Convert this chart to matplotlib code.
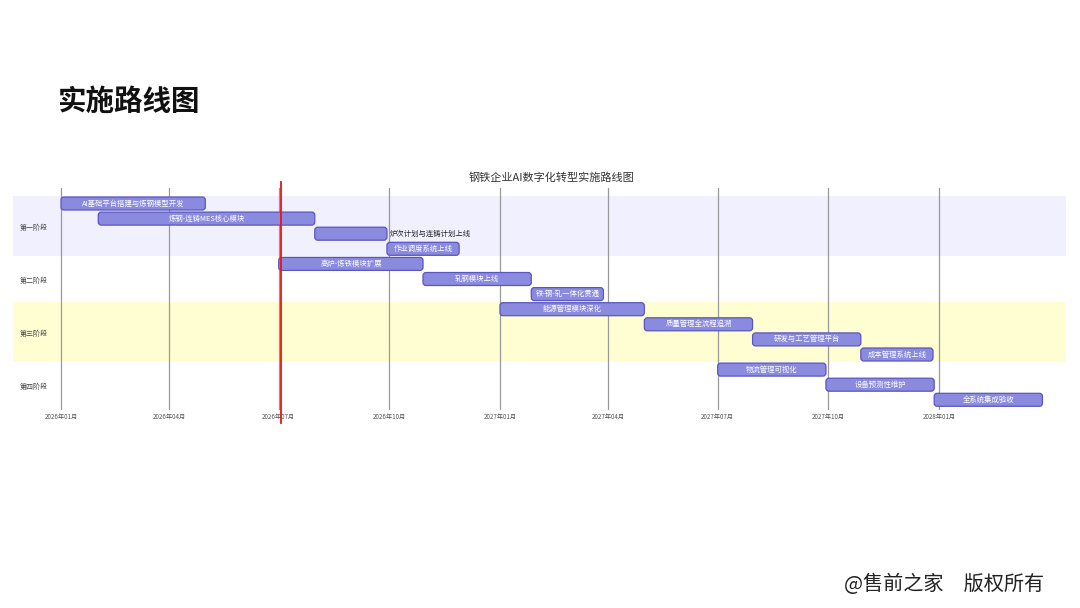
import matplotlib
matplotlib.use("Agg")
import matplotlib.pyplot as plt
import matplotlib.dates as mdates
from matplotlib.patches import FancyBboxPatch
from datetime import datetime

plt.rcParams['font.family'] = ['Noto Sans CJK SC', 'DejaVu Sans']

# 数据
phases = ['第一阶段', '第二阶段', '第三阶段', '第四阶段']
tasks = ['AI基础平台搭建与炼钢模型开发', '炼钢-连铸MES核心模块', '炉次计划与连铸计划上线', '作业调度系统上线',
         '高炉-炼铁模块扩展', '轧钢模块上线', '铁-钢-轧一体化贯通',
         '能源管理模块深化', '质量管理全流程追溯', '研发与工艺管理平台', '成本管理系统上线',
         '物流管理可视化', '设备预测性维护', '全系统集成验收']
task_phase = [0, 0, 0, 0, 1, 1, 1, 2, 2, 2, 2, 3, 3, 3]
starts = ['2026-01-01', '2026-02-01', '2026-07-31', '2026-09-29',
          '2026-07-01', '2026-10-29', '2027-01-27',
          '2027-01-01', '2027-05-01', '2027-07-30', '2027-10-28',
          '2027-07-01', '2027-09-29', '2027-12-28']
durations = [120, 180, 60, 60, 120, 90, 60, 120, 90, 90, 60, 90, 90, 90]
tick_dates = ['2026-01-01', '2026-04-01', '2026-07-01', '2026-10-01', '2027-01-01',
              '2027-04-01', '2027-07-01', '2027-10-01', '2028-01-01']
today = '2026-07-03'
phase_colors = ['#F0F0FE', '#FFFFFF', '#FEFED2', '#FFFFFF']

W, H = 1080, 608
fig = plt.figure(figsize=(10.8, 6.08), dpi=100)


def fx(x):
    return x / W


def fy(y):
    return 1 - y / H


# 坐标轴范围（像素换算）
ax = fig.add_axes([fx(13), fy(410), fx(1066) - fx(13), fy(188) - fy(410)])
d0 = mdates.date2num(datetime(2026, 1, 1))
ppd = (939 - 61) / 730.0
ax.set_xlim(d0 - (61 - 13) / ppd, d0 + (1066 - 61) / ppd)
row_px = 15.1
ax.set_ylim((410 - 203.5) / row_px, (188 - 203.5) / row_px)
for s in ax.spines.values():
    s.set_visible(False)
ax.set_yticks([])
ax.tick_params(axis='x', length=0, pad=2, labelsize=4.5, labelcolor='#555555')

# 阶段背景
for p in range(len(phases)):
    rows = [i for i, t in enumerate(task_phase) if t == p]
    ax.axhspan(min(rows) - 0.5, max(rows) + 0.5, color=phase_colors[p], zorder=0, lw=0)
    fig.text(fx(34), fy(205.5 + row_px * (min(rows) + max(rows)) / 2), phases[p],
             ha='center', va='center', fontsize=5, color='#444444')

# 网格线
ticks = [mdates.date2num(datetime.strptime(t, '%Y-%m-%d')) for t in tick_dates]
ax.set_xticks(ticks)
ax.set_xticklabels([datetime.strptime(t, '%Y-%m-%d').strftime('%Y年%m月') for t in tick_dates])
for t in ticks:
    ax.axvline(t, color='#999999', lw=0.9, zorder=1)

# 任务条
bh = 0.86
for i, name in enumerate(tasks):
    s = mdates.date2num(datetime.strptime(starts[i], '%Y-%m-%d'))
    e = s + durations[i]
    box = FancyBboxPatch((s, i - bh / 2), e - s, bh,
                         boxstyle='round,pad=0,rounding_size=2.5',
                         mutation_aspect=(1 / row_px) / (1 / ppd),
                         fc='#8A8ADE', ec='#5A56C0', lw=0.9, zorder=3)
    ax.add_patch(box)
    if name == '炉次计划与连铸计划上线':
        ax.text(e + 2, i, name, ha='left', va='center', fontsize=5.3, color='#222222', zorder=4)
    else:
        ax.text((s + e) / 2, i, name, ha='center', va='center', fontsize=5.3, color='white', zorder=4)

# 今日线
td = mdates.date2num(datetime.strptime(today, '%Y-%m-%d'))
ax.axvline(td, ymin=-0.058, ymax=1.027, color='#EE1111', lw=1.3, zorder=5, clip_on=False)

# 标题
fig.text(fx(552), fy(178), '钢铁企业AI数字化转型实施路线图', ha='center', va='center',
         fontsize=8, color='#333333')
fig.text(fx(57), fy(102), '实施路线图', ha='left', va='center', fontsize=20.5,
         fontweight='bold', color='#111111')
fig.text(fx(1044), fy(584), '@售前之家\u3000版权所有', ha='right', va='center',
         fontsize=14.5, color='#222222')

fig.savefig('out.png', dpi=100)
